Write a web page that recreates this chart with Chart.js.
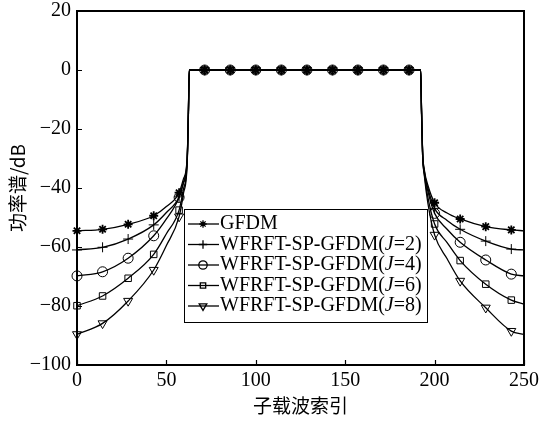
<!DOCTYPE html>
<html>
<head>
<meta charset="utf-8">
<script src="https://cdn.jsdelivr.net/npm/chart.js@4.4.1/dist/chart.umd.min.js"></script>
<style>
  html, body { margin: 0; padding: 0; background: #fff; }
  canvas { display: block; }
</style>
</head>
<body>
<canvas id="psd" width="543" height="421"></canvas>
<script>
// subcarrier index of every sampled point
const subcarriers = [0, 14.3, 28.6, 42.9, 50, 57.1, 59.5, 61.6, 62.3, 62.8,
  71.4, 85.7, 100, 114.3, 128.6, 142.9, 157.1, 171.4, 185.7, 192.2,
  192.7, 193.3, 194.3, 196.2, 200, 207, 214.3, 228.6, 242.9, 250];

// subcarriers that carry a marker
const markerAt = [0, 14.3, 28.6, 42.9, 57.1, 71.4, 85.7, 100, 114.3, 128.6,
  142.9, 157.1, 171.4, 185.7, 200, 214.3, 228.6, 242.9];

// power spectrum in dB
const gfdm = [-54.5, -54, -52.3, -49.4, -46.3, -41.6, -37, -30, -14, 0,
  0, 0, 0, 0, 0, 0, 0, 0, 0, 0,
  -14, -28, -34, -39, -45, -48.5, -50.5, -53.1, -54.2, -54.5];
const spJ2 = [-61, -60.1, -57.3, -52.5, -48.3, -43, -38, -30.5, -14.5, 0,
  0, 0, 0, 0, 0, 0, 0, 0, 0, 0,
  -14, -28, -34.5, -40, -46.9, -51, -54, -58, -60.7, -61];
const spJ4 = [-69.8, -68.4, -63.8, -56.2, -50.5, -43.2, -38.5, -31, -15, 0,
  0, 0, 0, 0, 0, 0, 0, 0, 0, 0,
  -14, -28.5, -35, -41, -48.6, -54, -58.4, -64.4, -69.2, -69.8];
const spJ6 = [-79.9, -76.6, -70.6, -62.5, -55.5, -47.5, -40.5, -31.5, -15, 0,
  0, 0, 0, 0, 0, 0, 0, 0, 0, 0,
  -14.5, -29, -35.5, -43, -52.2, -58.5, -64.6, -72.6, -78, -79.4];
const spJ8 = [-89.6, -85.9, -78.3, -67.8, -59.5, -49.7, -42, -32, -15.5, 0,
  0, 0, 0, 0, 0, 0, 0, 0, 0, 0,
  -15, -29, -36, -45, -55.9, -64, -71.5, -80.6, -88.5, -89.6];

const seriesNames = ['GFDM', 'WFRFT-SP-GFDM(J=2)', 'WFRFT-SP-GFDM(J=4)',
  'WFRFT-SP-GFDM(J=6)', 'WFRFT-SP-GFDM(J=8)'];
const xTicks = [0, 50, 100, 150, 200, 250];
const yTicks = [-100, -80, -60, -40, -20, 0, 20];

const serif = '"Liberation Serif", "Times New Roman", serif';
const cjk = '"Noto Sans CJK SC", sans-serif';

const markers = [
  { pointStyle: 'star', radius: 4.5, rotation: 0, width: 1.8 },
  { pointStyle: 'cross', radius: 5, rotation: 0, width: 1 },
  { pointStyle: 'circle', radius: 5, rotation: 0, width: 1 },
  { pointStyle: 'rect', radius: 4.6, rotation: 0, width: 1 },
  { pointStyle: 'triangle', radius: 5.2, rotation: 180, width: 1 }
];

const values = [gfdm, spJ2, spJ4, spJ6, spJ8];
const datasets = values.map((ys, i) => ({
  label: seriesNames[i],
  data: subcarriers.map((x, k) => ({ x, y: ys[k] })),
  borderColor: '#000',
  borderWidth: 1.3,
  cubicInterpolationMode: 'monotone',
  pointStyle: markers[i].pointStyle,
  pointRotation: markers[i].rotation,
  pointBorderWidth: markers[i].width,
  pointBorderColor: '#000',
  pointBackgroundColor: i === 0 ? '#000' : 'rgba(0,0,0,0)',
  pointRadius: ctx => markerAt.includes(subcarriers[ctx.dataIndex]) ? markers[i].radius : 0,
  clip: 10
}));

const fmt = v => v < 0 ? '\u2212' + Math.abs(v) : String(v);

const noPad = s => {
  s.paddingTop = 0; s.paddingBottom = 0; s.paddingLeft = 0; s.paddingRight = 0;
};

// inward tick marks, frame and the boxed legend
const framePlugin = {
  id: 'frame',
  afterDraw(chart) {
    const { ctx, chartArea: a, scales } = chart;
    ctx.save();
    ctx.strokeStyle = '#000';
    ctx.lineWidth = 1.2;
    ctx.beginPath();
    xTicks.forEach(v => {
      const px = Math.round(scales.x.getPixelForValue(v)) + 0.5;
      ctx.moveTo(px, a.bottom);
      ctx.lineTo(px, a.bottom - 5);
    });
    yTicks.forEach(v => {
      const py = Math.round(scales.y.getPixelForValue(v)) + 0.5;
      ctx.moveTo(a.left, py);
      ctx.lineTo(a.left + 5, py);
    });
    ctx.stroke();
    ctx.lineWidth = 2;
    ctx.strokeRect(a.left, a.top, a.right - a.left, a.bottom - a.top);

    // legend
    const lx = a.left + 107, ly = a.top + 198, lw = 243, lh = 113;
    ctx.fillStyle = '#fff';
    ctx.fillRect(lx, ly, lw, lh);
    ctx.lineWidth = 1;
    ctx.strokeRect(lx + 0.5, ly + 0.5, lw, lh);
    ctx.textBaseline = 'middle';
    ctx.textAlign = 'left';
    seriesNames.forEach((name, i) => {
      const cy = ly + 15 + i * 20.5;
      ctx.lineWidth = 1.3;
      ctx.beginPath();
      ctx.moveTo(lx + 4, cy);
      ctx.lineTo(lx + 35, cy);
      ctx.stroke();
      const m = markers[i];
      ctx.fillStyle = i === 0 ? '#000' : 'rgba(0,0,0,0)';
      Chart.helpers.drawPoint(ctx, {
        pointStyle: m.pointStyle, radius: m.radius - 0.8,
        rotation: m.rotation, borderWidth: m.width
      }, lx + 19, cy);
      ctx.fillStyle = '#000';
      const parts = name.split('J');
      let tx = lx + 36;
      ctx.font = '20px ' + serif;
      ctx.fillText(parts[0], tx, cy);
      tx += ctx.measureText(parts[0]).width;
      if (parts.length > 1) {
        ctx.font = 'italic 20px ' + serif;
        ctx.fillText('J', tx, cy);
        tx += ctx.measureText('J').width;
        ctx.font = '20px ' + serif;
        ctx.fillText(parts[1], tx, cy);
      }
    });
    ctx.restore();
  }
};

new Chart(document.getElementById('psd').getContext('2d'), {
  type: 'line',
  data: { datasets },
  options: {
    responsive: false,
    animation: false,
    events: [],
    layout: { padding: { left: 0, right: 19, top: 11, bottom: 0 } },
    plugins: { legend: { display: false }, tooltip: { enabled: false } },
    scales: {
      x: {
        type: 'linear',
        min: 0,
        max: 250,
        afterBuildTicks: s => { s.ticks = xTicks.map(value => ({ value })); },
        afterFit: s => { s.height = 56; noPad(s); },
        grid: { display: false, drawTicks: false },
        border: { display: false },
        ticks: {
          autoSkip: false, maxRotation: 0, padding: 4, color: '#000',
          font: { family: serif, size: 20 }
        },
        title: {
          display: true, text: '子载波索引', color: '#000',
          font: { family: cjk, size: 19 }, padding: { top: 0, bottom: 4 }
        }
      },
      y: {
        min: -100,
        max: 20,
        afterBuildTicks: s => { s.ticks = yTicks.map(value => ({ value })); },
        afterFit: s => { s.width = 77; noPad(s); },
        grid: { display: false, drawTicks: false },
        border: { display: false },
        ticks: {
          autoSkip: false, padding: 6, color: '#000',
          font: { family: serif, size: 20 },
          callback: fmt
        },
        title: {
          display: true, text: '功率谱/dB', color: '#000',
          font: { family: cjk, size: 19 }, padding: { top: 6, bottom: 0 }
        }
      }
    }
  },
  plugins: [framePlugin]
});
</script>
</body>
</html>
